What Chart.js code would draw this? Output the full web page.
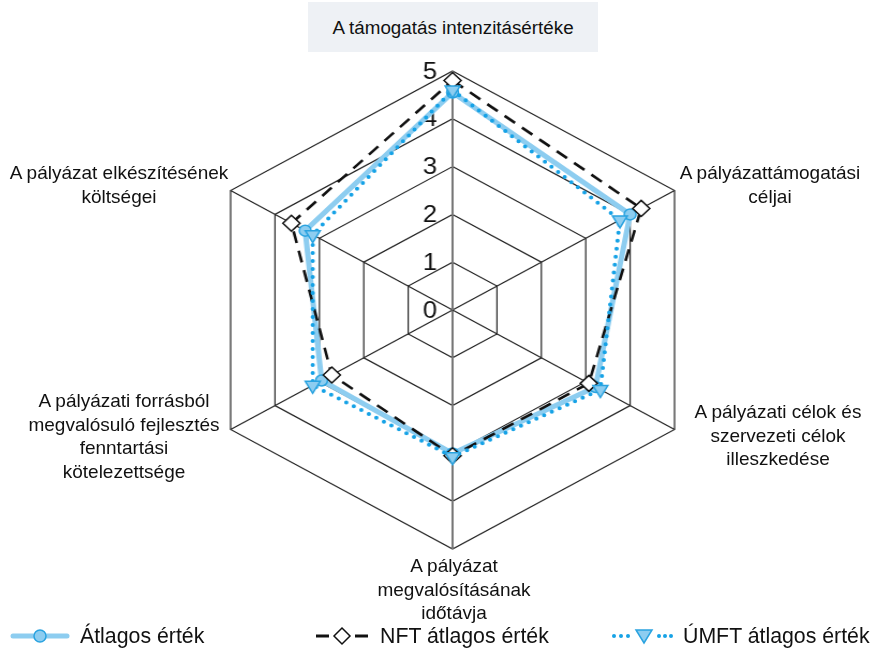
<!DOCTYPE html>
<html lang="hu">
<head>
<meta charset="utf-8">
<title>A támogatás intenzitásértéke</title>
<script src="https://cdn.jsdelivr.net/npm/chart.js@4.4.1/dist/chart.umd.min.js"></script>
<style>
  body { margin: 0; background: #fff; font-family: "Liberation Sans", Arial, sans-serif; color: #111; }
  #wrap { position: relative; width: 874px; height: 650px; overflow: hidden; }
  #radar { position: absolute; left: 0; top: 0; }
  .lbl { position: absolute; width: 280px; text-align: center; font-size: 19px; line-height: 23.5px; white-space: nowrap; }
  .title-box { position: absolute; left: 308px; top: 2px; width: 290px; height: 50px; background: #eef1f5;
               font-size: 18.8px; line-height: 52px; text-align: center; }
  .leg-icon { position: absolute; top: 626px; }
  .leg-text { position: absolute; top: 623px; font-size: 21.3px; line-height: 26px; white-space: nowrap; }
</style>
</head>
<body>
<div id="wrap">
  <canvas id="radar" width="815" height="650" style="width:874px;height:650px"></canvas>
</div>
<script>
// axis labels, clockwise from the top
const categories = [
  ['A támogatás intenzitásértéke'],
  ['A pályázattámogatási', 'céljai'],
  ['A pályázati célok és', 'szervezeti célok', 'illeszkedése'],
  ['A pályázat', 'megvalósításának', 'időtávja'],
  ['A pályázati forrásból', 'megvalósuló fejlesztés', 'fenntartási', 'kötelezettsége'],
  ['A pályázat elkészítésének', 'költségei']
];
const seriesNames = ['Átlagos érték', 'NFT átlagos érték', 'ÚMFT átlagos érték'];
const atlagos = [4.55, 4.0, 3.22, 3.0, 2.95, 3.32];
const nft = [4.8, 4.25, 3.07, 3.05, 2.72, 3.63];
const umft = [4.6, 3.77, 3.33, 3.07, 3.15, 3.15];
const tickLabels = [0, 1, 2, 3, 4, 5];

// where the outer labels sit (centre x, first line y) - layout only
const labelSpots = [null, [770, 173], [778, 412], [454, 566], [124, 401], [119, 173]];

const LIGHT = '#8dcdf0';
const EDGE = '#2aa3e0';
const DOTS = '#16a2e6';

const wrap = document.getElementById('wrap');

// title box for the top axis
const tb = document.createElement('div');
tb.className = 'title-box';
tb.textContent = categories[0][0];
wrap.appendChild(tb);

categories.forEach((lines, i) => {
  if (!labelSpots[i]) return;
  const d = document.createElement('div');
  d.className = 'lbl';
  d.style.left = (labelSpots[i][0] - 140) + 'px';
  d.style.top = (labelSpots[i][1] - 11.75) + 'px';
  d.innerHTML = lines.join('<br>');
  wrap.appendChild(d);
});

// legend
const icons = [
  '<svg width="62" height="20"><line x1="3" y1="10" x2="57" y2="10" stroke="' + LIGHT + '" stroke-width="5" stroke-linecap="round"/>' +
    '<circle cx="30" cy="10" r="6" fill="' + LIGHT + '" stroke="' + EDGE + '" stroke-width="1.5"/></svg>',
  '<svg width="60" height="20"><line x1="3" y1="10" x2="16" y2="10" stroke="#111" stroke-width="3"/>' +
    '<polygon points="29,2 37,10 29,18 21,10" fill="#fff" stroke="#111" stroke-width="1.5"/>' +
    '<line x1="42" y1="10" x2="55" y2="10" stroke="#111" stroke-width="3"/></svg>',
  '<svg width="64" height="20"><g fill="' + DOTS + '"><circle cx="4" cy="10" r="2"/><circle cx="11" cy="10" r="2"/><circle cx="18" cy="10" r="2"/>' +
    '<circle cx="49" cy="10" r="2"/><circle cx="55" cy="10" r="2"/><circle cx="61" cy="10" r="2"/></g>' +
    '<polygon points="26,4 42,4 34,17" fill="' + LIGHT + '" stroke="' + EDGE + '" stroke-width="1.5"/></svg>'
];
const iconLeft = [10, 313, 610];
const textLeft = [80, 380, 683];
seriesNames.forEach((name, i) => {
  const ic = document.createElement('div');
  ic.className = 'leg-icon';
  ic.style.left = iconLeft[i] + 'px';
  ic.innerHTML = icons[i];
  wrap.appendChild(ic);
  const t = document.createElement('div');
  t.className = 'leg-text';
  t.style.left = textLeft[i] + 'px';
  t.textContent = name;
  wrap.appendChild(t);
});

// scale numbers drawn just left of the vertical axis
const tickText = {
  id: 'tickText',
  beforeDatasetsDraw(chart) {
    const r = chart.scales.r;
    const ctx = chart.ctx;
    ctx.save();
    ctx.font = '24px "Liberation Sans", Arial, sans-serif';
    ctx.fillStyle = '#111';
    ctx.textAlign = 'center';
    ctx.textBaseline = 'middle';
    tickLabels.forEach(v => {
      ctx.fillText(String(v), r.xCenter - 21, r.yCenter - r.getDistanceFromCenterForValue(v) + 1);
    });
    ctx.restore();
  }
};

new Chart(document.getElementById('radar'), {
  type: 'radar',
  data: {
    labels: categories,
    datasets: [
      {
        label: seriesNames[0], data: atlagos, order: 3,
        borderColor: LIGHT, borderWidth: 5, fill: false,
        pointStyle: 'circle', pointRadius: 5.5, pointBackgroundColor: LIGHT,
        pointBorderColor: EDGE, pointBorderWidth: 1.5
      },
      {
        label: seriesNames[1], data: nft, order: 2,
        borderColor: '#111', borderWidth: 2.6, borderDash: [12, 8], fill: false,
        pointStyle: 'rectRot', pointRadius: 8, pointBackgroundColor: '#fff',
        pointBorderColor: '#111', pointBorderWidth: 1.5
      },
      {
        label: seriesNames[2], data: umft, order: 1,
        borderColor: DOTS, borderWidth: 4, borderDash: [0, 8], borderCapStyle: 'round', fill: false,
        pointStyle: 'triangle', pointRotation: 180, pointRadius: 8, pointBackgroundColor: LIGHT,
        pointBorderColor: EDGE, pointBorderWidth: 1.5
      }
    ]
  },
  options: {
    responsive: false,
    devicePixelRatio: 1,
    animation: false,
    layout: { padding: { left: 183, right: 154, top: 71, bottom: 101 } },
    elements: { line: { tension: 0 } },
    plugins: { legend: { display: false }, tooltip: { enabled: false } },
    scales: {
      r: {
        min: 0, max: 5,
        ticks: { stepSize: 1, display: false },
        pointLabels: { display: false },
        grid: { color: '#222', lineWidth: 1.2, circular: false },
        angleLines: {
          color: c => (c.index % 3 === 0 ? '#777' : '#222'),
          lineWidth: c => (c.index % 3 === 0 ? 2 : 1.2)
        }
      }
    }
  },
  plugins: [tickText]
});
</script>
</body>
</html>
